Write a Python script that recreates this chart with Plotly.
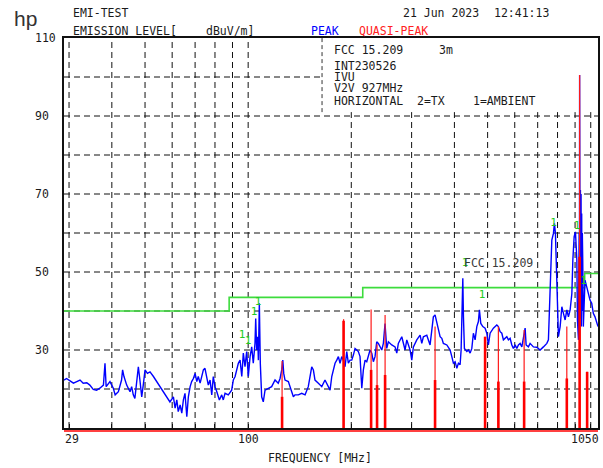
import numpy as np
import plotly.graph_objects as go

# ---------------- data ----------------
# Peak trace (blue), split into four frequency segments
peak_freq_a = [29.0, 29.5, 30.2, 30.9, 31.6, 32.3, 33.0, 33.8, 34.5, 35.3, 36.1, 36.9, 37.8, 38.2, 38.5, 39.1, 39.5, 40.4, 40.9, 41.8,
               42.7, 43.0, 43.4, 44.2, 44.7, 45.2, 45.7, 46.2, 46.7, 47.3, 47.8, 48.3, 48.9, 49.4, 50.0, 50.8, 51.7, 52.9, 54.1, 55.3,
               56.5, 57.9, 59.1, 60.5, 61.2, 61.9, 62.5, 63.3, 64.0, 64.7, 65.4, 66.2, 66.9, 67.7, 68.4, 69.2, 70.0, 70.8, 71.5, 72.4,
               74.0, 74.8, 75.7, 76.5, 77.4, 78.3, 79.1, 80.0, 81.0, 82.4]
peak_level_a = [22.3, 22.7, 22.1, 21.5, 21.9, 22.3, 21.5, 21.6, 21.0, 19.9, 19.7, 20.2, 21.0, 26.6, 20.6, 21.5, 21.9, 20.2, 18.5, 19.3,
                22.3, 24.9, 23.2, 21.0, 20.2, 19.3, 20.6, 18.5, 17.6, 21.5, 25.7, 22.3, 18.0, 21.0, 24.9, 24.0, 24.4, 23.2, 21.9, 20.6,
                19.3, 18.0, 16.7, 18.0, 15.1, 17.2, 14.2, 15.9, 13.8, 17.2, 18.9, 12.9, 18.0, 20.6, 21.9, 22.7, 24.0, 21.9, 23.2, 21.5,
                24.9, 25.3, 23.2, 21.0, 22.3, 18.5, 23.2, 20.6, 19.3, 17.2]

peak_freq_b = [83.7, 84.6, 85.6, 87.5, 89.5, 90.5, 91.6, 92.6, 93.6, 94.7, 95.8, 96.8, 97.9, 99.0, 100.1, 101.3, 102.4, 103.5, 104.7, 105.2,
               105.9, 106.6, 107.1, 107.8, 108.5, 109.5, 110.7, 112.0, 114.5, 117.1, 119.8, 122.4, 123.9, 125.3, 126.2, 127.0, 128.1, 131.0, 134.0, 135.5,
               137.0, 140.1, 143.3, 146.6, 149.8, 153.3, 155.0, 156.7, 160.3, 164.0, 167.6, 171.4, 173.4, 175.4, 177.3, 179.3, 181.4, 183.4, 185.4, 187.6,
               189.6, 191.8, 194.0, 196.1, 198.3, 200.6, 202.8, 205.1, 207.5, 209.7, 212.1, 214.6, 216.9, 219.4, 221.9, 224.3, 226.9, 229.5, 232.0, 234.6,
               237.3, 239.9, 242.7, 245.5, 248.1, 250.9, 253.8, 256.6, 262.5, 268.4, 271.5, 274.4, 280.8, 283.8, 287.1]
peak_level_b = [18.5, 17.2, 18.9, 18.5, 19.7, 22.3, 23.2, 24.9, 26.6, 27.4, 23.2, 29.2, 25.7, 29.6, 23.2, 28.3, 30.8, 26.6, 31.7, 38.1,
                30.0, 33.4, 27.4, 42.0, 26.6, 18.0, 16.7, 19.7, 20.2, 20.6, 22.3, 21.5, 22.7, 24.9, 27.4, 24.0, 22.3, 21.9, 19.3, 18.0,
                18.5, 18.5, 18.9, 18.5, 20.6, 25.7, 24.9, 22.3, 21.5, 20.6, 22.3, 20.6, 19.7, 23.2, 25.3, 26.6, 27.4, 28.3, 26.6, 28.3,
                27.4, 25.7, 29.6, 26.6, 27.4, 27.4, 28.7, 30.4, 30.0, 29.6, 28.3, 20.2, 24.9, 27.4, 27.0, 28.3, 30.0, 29.2, 27.0, 28.3,
                32.1, 31.7, 30.8, 30.0, 31.7, 36.8, 30.4, 32.1, 31.3, 30.8, 29.2, 31.7, 33.4, 31.7, 30.0]

peak_freq_c = [290.4, 296.9, 300.3, 303.6, 310.6, 317.6, 321.2, 324.7, 332.2, 335.7, 339.6, 343.6, 347.2, 351.2, 355.3, 359.2, 363.3, 367.5, 371.4, 380.1,
               388.6, 393.1, 397.3, 401.9, 406.5, 410.9, 415.6, 418.4, 421.2, 423.2, 425.0, 427.8, 434.8, 439.4, 444.5, 449.6, 454.4, 459.7, 465.0, 470.0,
               473.2, 477.6, 484.1, 491.6, 497.3, 502.6, 508.4, 514.3, 519.8, 531.9, 537.5, 543.8, 550.1, 556.0, 562.4, 568.9, 575.0, 581.6, 588.4, 594.6,
               601.5, 608.5, 615.0, 622.1, 629.3, 636.0, 643.4, 647.7, 657.7]
peak_level_c = [32.6, 30.0, 27.4, 30.8, 32.6, 33.8, 31.7, 33.4, 33.8, 32.6, 31.3, 35.1, 38.5, 39.0, 36.8, 35.1, 33.4, 33.0, 31.7, 31.3,
                30.0, 28.3, 26.6, 27.0, 25.3, 26.6, 26.2, 30.0, 38.5, 48.4, 38.5, 30.4, 29.6, 30.0, 29.2, 30.4, 34.3, 32.6, 36.0, 37.3,
                40.3, 36.8, 36.0, 35.6, 34.3, 31.3, 34.3, 35.1, 35.6, 36.4, 36.0, 34.7, 34.3, 32.6, 33.0, 33.4, 32.6, 33.0, 31.3, 30.4,
                31.3, 30.4, 31.3, 31.7, 30.8, 33.4, 35.6, 31.3, 30.8]

peak_freq_d = [665.3, 680.2, 695.9, 711.6, 727.5, 744.4, 752.4, 761.1, 769.8, 778.2, 783.4, 788.8, 796.1, 804.8, 814.1, 823.5, 832.3, 841.9, 851.6, 860.7,
               870.7, 880.8, 886.7, 894.5, 902.4, 910.9, 914.5, 920.8, 925.0, 927.0, 928.0, 929.0, 930.0, 931.5, 933.0, 935.0, 937.0, 939.0, 941.0, 943.0,
               945.0, 947.6, 951.5, 955.9, 962.3, 973.4, 984.0, 995.0, 1006.5, 1017.5, 1029.1, 1041.0, 1050.0]
peak_level_d = [31.7, 30.8, 30.7, 30.0, 30.8, 31.7, 32.6, 44.5, 58.2, 59.9, 62.5, 59.9, 44.5, 33.4, 36.0, 41.1, 39.4, 37.7, 40.3, 38.5,
                40.3, 44.5, 53.1, 59.1, 60.3, 53.1, 37.7, 32.6, 60.0, 44.5, 100.5, 45.0, 72.0, 38.0, 71.0, 42.0, 70.0, 36.0, 65.0, 40.0,
                60.0, 53.1, 36.0, 44.5, 47.9, 46.2, 44.5, 42.8, 42.0, 39.4, 38.5, 36.8, 36.0]

# Quasi-peak readings (red vertical lines): upper (thin) and lower (thick) values
qp_freq = [125.6, 189.9, 228.5, 237.8, 251.0, 351.2, 491.6, 537.5, 639.1, 851.4, 928.0, 976.0]
qp_high = [27.2, 37.9, 40.4, 31.5, 39.0, 36.0, 33.4, 36.0, 35.1, 36.0, 100.5, 24.4]
qp_low = [18.0, 37.5, 24.9, 21.0, 23.6, 22.3, 33.4, 21.9, 21.9, 22.7, 53.9, 24.4]

# FCC 15.209 (3 m) limit line as shown
limit_edges = [29, 88, 216, 960, 1050]
limit_values = [40, 43.5, 46, 49.6, 49.6]

# Marker "1" positions
mark_freq = [96.0, 99.9, 104.0, 106.9, 429.8, 481.8, 779.3, 912.6, 953.2]
mark_level = [33.8, 32.3, 39.7, 42.3, 52.3, 44.1, 62.4, 61.7, 47.6]

# axes
x_grid = [30, 40, 50, 60, 70, 80, 90, 100, 200, 300, 400, 500, 600, 700, 800, 900, 1000]
x_labels = [29, 100, 1050]
y_grid = [20, 30, 40, 50, 60, 70, 80, 90, 100]
y_labels = [30, 50, 70, 90, 110]
X_MIN, X_MAX = 29, 1050
Y_MIN, Y_MAX = 10, 110
# information box corner (lower-left) in data units
BOX_FREQ, BOX_LEVEL = 164.3, 91.0

# ---------------- figure ----------------
MONO = "DejaVu Sans Mono"
TXT = "#1a1a1a"
GRID = "#111111"
peak_freq = peak_freq_a + peak_freq_b + peak_freq_c + peak_freq_d
peak_level = peak_level_a + peak_level_b + peak_level_c + peak_level_d

fig = go.Figure()

# dashed grid, left out where the information box sits
gx, gy = [], []
for f in x_grid:
    gx += [f, f, None]
    gy += [Y_MIN, Y_MAX if f < BOX_FREQ else BOX_LEVEL, None]
for v in y_grid:
    gx += [X_MIN, X_MAX if v < BOX_LEVEL else BOX_FREQ, None]
    gy += [v, v, None]
fig.add_trace(go.Scatter(x=gx, y=gy, mode="lines", line=dict(color=GRID, width=1, dash="6px,4px"),
                         hoverinfo="skip"))
# dashed left edge of the information box
fig.add_trace(go.Scatter(x=[BOX_FREQ, BOX_FREQ], y=[BOX_LEVEL, Y_MAX], mode="lines",
                         line=dict(color="#333333", width=1, dash="4px,3px"), hoverinfo="skip"))

fig.add_trace(go.Scatter(x=limit_edges, y=limit_values, mode="lines", line_shape="hv",
                         line=dict(color="#3ddc3d", width=1.6), hoverinfo="skip"))
fig.add_trace(go.Scatter(x=peak_freq, y=peak_level, mode="lines",
                         line=dict(color="#0000ff", width=1.4), hoverinfo="skip"))

def vlines(freqs, tops):
    xs, ys = [], []
    for f, t in zip(freqs, tops):
        xs += [f, f, None]
        ys += [Y_MIN, t, None]
    return xs, ys

xh, yh = vlines(qp_freq, qp_high)
fig.add_trace(go.Scatter(x=xh, y=yh, mode="lines", line=dict(color="#ff1a1a", width=1.2), hoverinfo="skip"))
xl, yl = vlines(qp_freq, qp_low)
fig.add_trace(go.Scatter(x=xl, y=yl, mode="lines", line=dict(color="#ff0000", width=2.6), hoverinfo="skip"))

fig.add_trace(go.Scatter(x=mark_freq, y=mark_level, mode="text", text=["1"] * len(mark_freq),
                         textfont=dict(family=MONO, size=11, color="#22cc22"), hoverinfo="skip"))

W, H = 603, 468
ml, mr, mt, mb = 64, 5, 38, 40
pw, ph = W - ml - mr, H - mt - mb

def px(x):
    return (x - ml) / pw

def py(y):
    return (H - mb - y) / ph

ann = []
def add_text(text, x, y, color=TXT, size=11.5, family=MONO, anchor="left"):
    ann.append(dict(text=text, x=px(x), y=py(y), xref="paper", yref="paper", xanchor=anchor,
                    yanchor="middle", showarrow=False, font=dict(family=family, size=size, color=color)))

add_text("hp", 12, 19, color="#333333", size=21, family="Liberation Sans")
add_text("EMI-TEST", 71, 13)
add_text("EMISSION LEVEL[", 71, 31)
add_text("dBuV/m]", 204, 31)
add_text("21 Jun 2023", 401, 13)
add_text("12:41:13", 492, 13)
add_text("PEAK", 309, 31, color="#0000ff")
add_text("QUASI-PEAK", 357, 31, color="#ff2020")
# info box text
add_text("FCC 15.209", 332, 50)
add_text("3m", 437, 50)
add_text("INT230526", 332, 66)
add_text("IVU", 332, 77)
add_text("V2V 927MHz", 332, 88)
add_text("HORIZONTAL", 332, 101)
add_text("2=TX", 415, 101)
add_text("1=AMBIENT", 471, 101)
add_text("FREQUENCY [MHz]", 320, 458, anchor="center")

for v in y_labels:
    ann.append(dict(text=str(v), x=px(33), y=v, xref="paper", yref="y", xanchor="left", yanchor="middle",
                    showarrow=False, font=dict(family=MONO, size=11.5, color=TXT)))
for v in x_labels:
    anc = "right" if v == X_MAX else ("left" if v == X_MIN else "center")
    shift = 3 if v == X_MAX else (-1 if v == X_MIN else 0)
    ann.append(dict(text=str(v), x=np.log10(v), y=py(439), xref="x", yref="paper", xanchor=anc, xshift=shift,
                    yanchor="middle", showarrow=False, font=dict(family=MONO, size=11.5, color=TXT)))

ann.append(dict(text="FCC 15.209", x=np.log10(421.2), y=52.3, xref="x", yref="y", xanchor="left", yanchor="middle",
                showarrow=False, font=dict(family=MONO, size=11.5, color="#3a3a3a")))

shapes = [
    # red base line under the frequency axis
    dict(type="line", xref="paper", yref="paper", x0=0, x1=1, y0=py(431), y1=py(431),
         line=dict(color="#ff0000", width=1.5), layer="above"),
]

fig.update_layout(
    width=W, height=H, margin=dict(l=ml, r=mr, t=mt, b=mb, autoexpand=False),
    paper_bgcolor="white", plot_bgcolor="white", showlegend=False,
    annotations=ann, shapes=shapes,
    xaxis=dict(type="log", range=[np.log10(X_MIN), np.log10(X_MAX)], tickvals=x_grid, ticktext=[""] * len(x_grid),
               showgrid=False, ticks="inside", ticklen=4, tickcolor=GRID, showline=True, linecolor=GRID, linewidth=2,
               mirror=True, zeroline=False, automargin=False, fixedrange=True),
    yaxis=dict(range=[Y_MIN, Y_MAX], tickvals=y_grid, showticklabels=False, showgrid=False,
               ticks="", showline=True, linecolor=GRID, linewidth=1.5, mirror=True,
               zeroline=False, automargin=False, fixedrange=True),
)

fig.write_html("out.html")
